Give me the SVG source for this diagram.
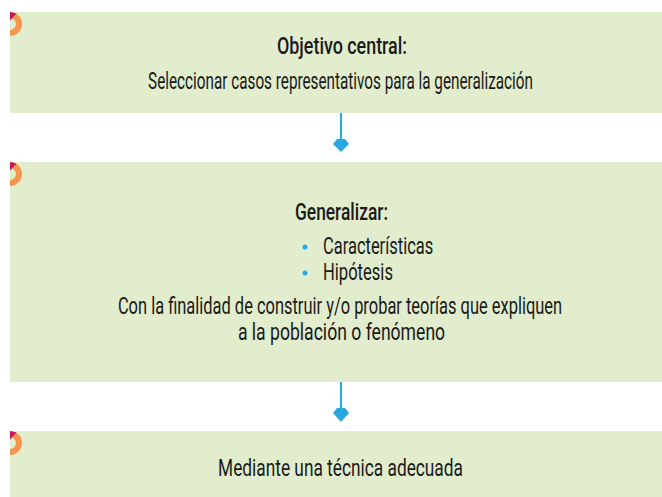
<svg xmlns="http://www.w3.org/2000/svg" width="662" height="497" viewBox="0 0 662 497">
<defs>
<style>
.box{fill:#e1edcc}
.t{font-family:"Roboto","DejaVu Sans Condensed","Liberation Sans",sans-serif;font-size:23px;fill:#1a1a1a;text-anchor:middle}
.tl{font-family:"Roboto","DejaVu Sans Condensed","Liberation Sans",sans-serif;font-size:23px;fill:#1a1a1a}
.b{font-weight:500}
.line{stroke:#29a8e0;stroke-width:2;fill:none}
.head{fill:#29a8e0}
.ring{fill:none;stroke:#f7954f;stroke-width:6}
.wedge{fill:#c8175f}
</style>
<g id="corner">
<path class="ring" d="M10,15 A9,9 0 0 1 10,33"/>
<path class="wedge" d="M10,12 L16.5,13.5 L10,20.5 Z"/>
</g>
</defs>
<g id="node1">
<rect class="box" x="10" y="12" width="652" height="101"/>
<use href="#corner"/>
<text class="t b" transform="translate(342,54) scale(0.66,1)" x="0" y="0" textLength="197" lengthAdjust="spacingAndGlyphs">Objetivo central:</text>
<text class="t" transform="translate(340.5,89) scale(0.66,1)" x="0" y="0" textLength="583" lengthAdjust="spacingAndGlyphs">Seleccionar casos representativos para la generalización</text>
</g>
<g id="node2">
<rect class="box" x="10" y="162" width="652" height="220"/>
<use href="#corner" y="150"/>
<text class="t b" transform="translate(341.5,220) scale(0.66,1)" x="0" y="0" textLength="141" lengthAdjust="spacingAndGlyphs">Generalizar:</text>
<circle class="head" cx="305" cy="247" r="2.5"/>
<text class="tl" transform="translate(323,254) scale(0.66,1)" x="0" y="0" textLength="167" lengthAdjust="spacingAndGlyphs">Características</text>
<circle class="head" cx="305" cy="273" r="2.5"/>
<text class="tl" transform="translate(323,280) scale(0.66,1)" x="0" y="0" textLength="106" lengthAdjust="spacingAndGlyphs">Hipótesis</text>
<text class="t" transform="translate(340,314) scale(0.66,1)" x="0" y="0" textLength="673" lengthAdjust="spacingAndGlyphs">Con la finalidad de construir y/o probar teorías que expliquen</text>
<text class="t" transform="translate(341.5,340) scale(0.66,1)" x="0" y="0" textLength="314" lengthAdjust="spacingAndGlyphs">a la población o fenómeno</text>
</g>
<g id="node3">
<rect class="box" x="10" y="431" width="652" height="66"/>
<use href="#corner" y="419"/>
<text class="t" transform="translate(340.5,476) scale(0.66,1)" x="0" y="0" textLength="371" lengthAdjust="spacingAndGlyphs">Mediante una técnica adecuada</text>
</g>
<g id="connectors">
<line class="line" x1="341" y1="113" x2="341" y2="142"/>
<polygon class="head" points="337,139 345,139 349,144 341,152 333,144"/>
<line class="line" x1="341" y1="382" x2="341" y2="411"/>
<polygon class="head" points="337,408 345,408 349,413 341,422 333,413"/>
</g>
</svg>
